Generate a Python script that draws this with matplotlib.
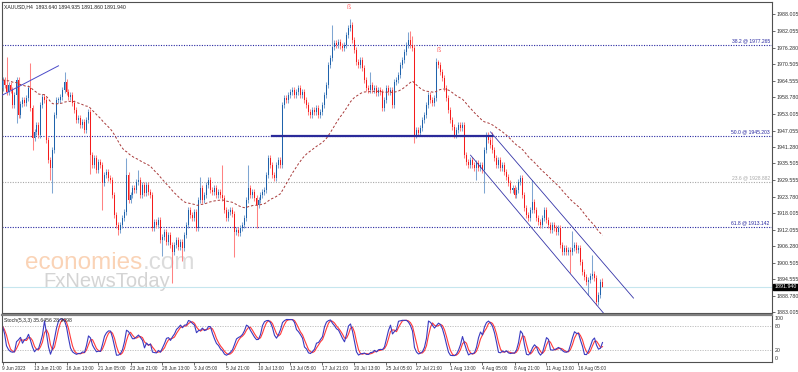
import numpy as np
import pandas as pd
import matplotlib
matplotlib.use("Agg")
import matplotlib.pyplot as plt

plt.rcParams['font.family'] = ['Liberation Sans', 'DejaVu Sans']

# ---- data (XAUUSD H4) ----
header_text = "XAUUSD,H4  1893.640 1894.935 1891.860 1891.940"
stoch_text = "Stoch(5,3,3) 35.6456 28.9098"
last_price = 1891.94

first_open = 1962.1
closes = [
    1964.9, 1963.1, 1960.7, 1963.1, 1961.4, 1956.1, 1959.6, 1964.9, 1952.5, 1956.4,
    1957.8, 1956.8, 1958.5, 1962.1, 1955.0, 1944.4, 1946.6, 1949.0, 1945.5, 1956.1,
    1958.9, 1957.8, 1943.7, 1936.7, 1933.9, 1940.2, 1952.5, 1957.8, 1957.8, 1958.9,
    1961.4, 1964.2, 1960.7, 1958.9, 1959.6, 1956.8, 1954.3, 1950.8, 1951.5, 1949.0,
    1950.1, 1947.3, 1950.8, 1953.6, 1938.4, 1934.9, 1937.4, 1933.2, 1936.0, 1934.9,
    1928.6, 1931.4, 1932.5, 1930.3, 1929.6, 1924.3, 1917.3, 1913.8, 1912.0, 1913.8,
    1916.2, 1918.4, 1931.4, 1922.6, 1924.3, 1926.8, 1926.1, 1928.9, 1929.6, 1924.3,
    1927.9, 1925.0, 1927.9, 1925.5, 1924.3, 1912.7, 1914.8, 1913.8, 1915.5, 1908.5,
    1909.5, 1911.3, 1907.8, 1910.2, 1906.7, 1904.3, 1906.7, 1908.5, 1906.0, 1907.8,
    1905.7, 1910.2, 1913.8, 1919.1, 1917.3, 1916.2, 1918.4, 1912.7, 1922.6, 1926.8,
    1922.6, 1924.3, 1927.9, 1929.6, 1926.1, 1925.5, 1926.8, 1924.3, 1925.5, 1924.3,
    1923.3, 1919.1, 1916.2, 1918.4, 1919.1, 1917.7, 1911.3, 1912.0, 1910.9, 1912.7,
    1913.8, 1916.2, 1922.6, 1926.8, 1924.3, 1925.5, 1923.3, 1920.8, 1922.6, 1924.3,
    1925.5, 1926.1, 1931.4, 1937.4, 1934.9, 1931.4, 1930.3, 1934.9, 1936.7, 1934.9,
    1956.1, 1958.5, 1957.8, 1959.6, 1960.7, 1961.4, 1959.6, 1960.7, 1962.1, 1959.6,
    1960.7, 1957.8, 1956.1, 1953.6, 1952.5, 1954.3, 1953.6, 1955.0, 1952.5, 1953.6,
    1956.1, 1959.6, 1963.1, 1970.2, 1972.6, 1976.5, 1977.9, 1977.2, 1978.3, 1976.9,
    1976.2, 1977.2, 1980.8, 1983.2, 1984.3, 1979.0, 1975.5, 1971.2, 1970.2, 1971.9,
    1969.1, 1964.9, 1962.1, 1961.4, 1963.1, 1961.4, 1962.1, 1960.3, 1961.4, 1960.7,
    1955.0, 1957.8, 1962.1, 1960.7, 1961.4, 1956.1, 1964.2, 1964.9, 1966.7, 1970.2,
    1971.9, 1974.8, 1977.2, 1979.0, 1977.2, 1976.2, 1945.5, 1947.3, 1946.2, 1948.0,
    1950.8, 1952.5, 1956.1, 1959.6, 1957.8, 1956.8, 1958.5, 1971.2, 1970.2, 1967.7,
    1965.6, 1962.1, 1958.5, 1954.3, 1950.8, 1948.3, 1945.5, 1947.3, 1949.0, 1948.0,
    1949.0, 1938.4, 1936.0, 1934.9, 1936.7, 1934.9, 1933.9, 1935.6, 1933.9, 1934.9,
    1933.2, 1940.2, 1945.5, 1943.7, 1942.0, 1940.2, 1937.4, 1934.9, 1936.7, 1933.9,
    1934.9, 1932.5, 1930.7, 1928.6, 1926.1, 1926.8, 1924.3, 1926.1, 1928.9, 1930.3,
    1924.3, 1919.8, 1917.3, 1916.2, 1919.1, 1921.9, 1919.1, 1916.2, 1914.8, 1913.8,
    1916.2, 1919.1, 1915.5, 1913.8, 1912.0, 1913.8, 1912.7, 1911.3, 1912.7, 1906.7,
    1904.3, 1905.7, 1904.3, 1905.0, 1904.3, 1905.7, 1906.7, 1905.0, 1905.7, 1900.7,
    1897.2, 1895.4, 1893.7, 1894.4, 1895.8, 1896.5, 1895.1, 1886.6, 1889.1, 1893.64,
    1891.94,
]

# long wicks that stand out (bar: price); the other bars get a short wick
wick_pad = 1.0
high_reads = {2: 1973.0, 14: 1970.9, 31: 1967.7, 62: 1937.4, 68: 1933.2, 99: 1930.7,
              110: 1934.9, 123: 1934.9, 165: 1984.3, 174: 1986.5, 184: 1967.7,
              203: 1981.8, 204: 1982.0, 205: 1980.5, 217: 1972.6, 218: 1972.0,
              242: 1946.6, 245: 1946.6, 265: 1929.6, 271: 1920.1, 285: 1911.6,
              295: 1903.2, 300: 1894.935}
low_reads = {7: 1949.7, 15: 1940.2, 24: 1929.6, 25: 1925.0, 44: 1931.8, 50: 1919.1,
             58: 1910.2, 80: 1903.0, 85: 1893.3, 90: 1901.0, 116: 1902.5, 127: 1912.7,
             206: 1942.7, 237: 1929.6, 241: 1925.0, 284: 1896.8, 293: 1889.1,
             297: 1885.6, 300: 1891.86}

price_ticks = [1988.005, 1982.055, 1976.280, 1970.505, 1964.555, 1958.780, 1953.005,
               1947.055, 1941.280, 1935.505, 1929.555, 1923.780, 1918.005, 1912.055,
               1906.280, 1900.505, 1894.555, 1888.780, 1883.005]
price_labels = ["%.3f" % p for p in price_ticks]

date_bars = [0, 16, 32, 48, 64, 80, 96, 112, 128, 144, 160, 176, 192, 207, 224, 240,
             256, 272, 288]
date_labels = ["9 Jun 2023", "13 Jun 21:00", "16 Jun 13:00", "21 Jun 05:00",
               "23 Jun 21:00", "28 Jun 13:00", "3 Jul 05:00", "5 Jul 21:00",
               "10 Jul 13:00", "13 Jul 05:00", "17 Jul 21:00", "20 Jul 13:00",
               "25 Jul 05:00", "27 Jul 21:00", "1 Aug 13:00", "4 Aug 05:00",
               "8 Aug 21:00", "11 Aug 13:00", "16 Aug 05:00"]

fib_names = ["38.2", "50.0", "23.6", "61.8"]
fib_prices = [1977.265, 1945.203, 1928.882, 1913.142]

# drawn objects: (bar, price) end points
trend_left = ([0, 28], [1959.6, 1969.9])
channel_upper = ([244, 315.5], [1946.6, 1888.0])
channel_lower = ([234, 300.5], [1938.4, 1882.7])
level_50 = ([135, 245], [1945.203, 1945.203])
marker_bars = [173, 218]
marker_prices = [1990.5, 1975.3]

stoch_levels = [80, 20]
stoch_ticks = [100, 80, 20, 0]

# ---- build ohlc ----
c = np.array(closes)
n = len(c)
idx = np.arange(n)
o = np.r_[first_open, c[:-1]]
hi = np.maximum(o, c) + wick_pad
lo = np.minimum(o, c) - wick_pad
for b, p in high_reads.items():
    hi[b] = max(p, max(o[b], c[b]))
for b, p in low_reads.items():
    lo[b] = min(p, min(o[b], c[b]))

ema = pd.Series(c).ewm(span=50, adjust=False).mean()

df = pd.DataFrame({'h': hi, 'l': lo, 'c': c})
ll = df.l.rolling(5, min_periods=1).min()
hh = df.h.rolling(5, min_periods=1).max()
k = (df.c - ll).rolling(3, min_periods=1).sum() / (hh - ll).rolling(3, min_periods=1).sum() * 100
d = k.rolling(3, min_periods=1).mean()

# ---- figure ----
W, H = 798, 372
fig = plt.figure(figsize=(W / 100, H / 100), dpi=100)


def px_axes(x0, y0, x1, y1):
    return fig.add_axes([x0 / W, 1 - y1 / H, (x1 - x0) / W, (y1 - y0) / H])


ax = px_axes(1.5, 1.5, 772, 313)
ax2 = px_axes(1.5, 315, 772, 361.5)

navy = '#2626a0'
bull_body, bull_wick = '#1f62ab', '#7fa6d2'
bear_body, bear_wick = '#f41c1c', '#ff8282'

# fib levels
for name, p in zip(fib_names, fib_prices):
    col = '#a8a8a8' if name == "23.6" else navy
    ax.axhline(p, color=col, lw=0.8, ls=(0, (1, 1.3)), zorder=1)
    ax.text(0.997, p + 0.5, "%s @ %.3f" % (name, p), transform=ax.get_yaxis_transform(),
            ha='right', va='bottom', fontsize=3.6, color=col)

ax.axhline(last_price, color='#c6e6ee', lw=0.8, zorder=1)

# watermark
t1 = ax.text(0.0305, 0.162, "economies", transform=ax.transAxes, fontsize=17.5,
             color='#fad3b6', va='center', ha='left', zorder=0)
ax.annotate(".com", xy=(1, 0), xycoords=t1, va='bottom', ha='left', fontsize=17.5,
            color='#dcdcdc', zorder=0)
ax.text(0.054, 0.102, "FxNewsToday", transform=ax.transAxes, fontsize=14.5,
        color='#d4d4d4', va='center', ha='left', zorder=0)

# candles
up = c >= o
body = np.abs(c - o)
body = np.where(body < 0.3, 0.3, body)
ax.vlines(idx[up], lo[up], hi[up], color=bull_wick, lw=0.75, zorder=2)
ax.vlines(idx[~up], lo[~up], hi[~up], color=bear_wick, lw=0.75, zorder=2)
ax.bar(idx[up], body[up], bottom=np.minimum(o, c)[up], width=0.9, color=bull_body,
       linewidth=0, zorder=3)
ax.bar(idx[~up], body[~up], bottom=np.minimum(o, c)[~up], width=0.9, color=bear_body,
       linewidth=0, zorder=3)

ax.plot(idx, ema, color='#a83a3a', lw=0.7, ls=(0, (2.5, 2)), zorder=4)

ax.plot(*trend_left, color='#4a4ac8', lw=0.7, zorder=4)
ax.plot(*channel_upper, color='#3434a8', lw=0.6, zorder=4)
ax.plot(*channel_lower, color='#3434a8', lw=0.6, zorder=4)
ax.plot(*level_50, color='#2a2a9a', lw=1.6, zorder=4)
for b, p in zip(marker_bars, marker_prices):
    ax.text(b, p, "ß", color='#ff6a6a', fontsize=5, ha='center', va='center', zorder=5)

ax.text(0.003, 0.992, header_text, transform=ax.transAxes, fontsize=3.7, va='top',
        ha='left', color='#202020')

ax.set_xlim(-0.5, 384.75)
ax.set_ylim(1882.74, 1992.57)
ax.set_xticks([])
ax.yaxis.tick_right()
ax.set_yticks(price_ticks)
ax.set_yticklabels(price_labels)
ax.tick_params(axis='y', labelsize=3.8, length=2, width=0.5, pad=1, colors='#303030')
ax.text(1.003, last_price, "%.3f" % last_price, transform=ax.get_yaxis_transform(),
        fontsize=3.8, color='white', va='center', ha='left', clip_on=False,
        bbox=dict(facecolor='black', edgecolor='black', pad=0.6))

for s in ax.spines.values():
    s.set_color('#505050')
    s.set_linewidth(0.8)

# stochastic
for lv in stoch_levels:
    ax2.axhline(lv, color='#b8b8b8', lw=0.6, ls=(0, (1.5, 1.5)))
ax2.plot(idx, d, color='#ff3a3a', lw=0.8)
ax2.plot(idx, k, color='#3a3ac0', lw=0.8)
ax2.text(0.003, 0.93, stoch_text, transform=ax2.transAxes, fontsize=3.7, va='top',
         ha='left', color='#202020')
ax2.set_xlim(-0.5, 384.75)
ax2.set_ylim(-9.5, 106.75)
ax2.yaxis.tick_right()
ax2.set_yticks(stoch_ticks)
ax2.set_yticklabels([str(t) for t in stoch_ticks])
ax2.tick_params(axis='y', labelsize=3.8, length=0, pad=2, colors='#303030')
ax2.set_xticks(date_bars)
ax2.set_xticklabels(date_labels, ha='left')
ax2.tick_params(axis='x', labelsize=3.4, length=2, width=0.5, pad=1, colors='#303030')
for s in ax2.spines.values():
    s.set_color('#505050')
    s.set_linewidth(0.8)
ax2.spines['top'].set_color('#808080')
ax2.spines['top'].set_linewidth(1.6)

fig.savefig("out.png", dpi=100, facecolor='white')
